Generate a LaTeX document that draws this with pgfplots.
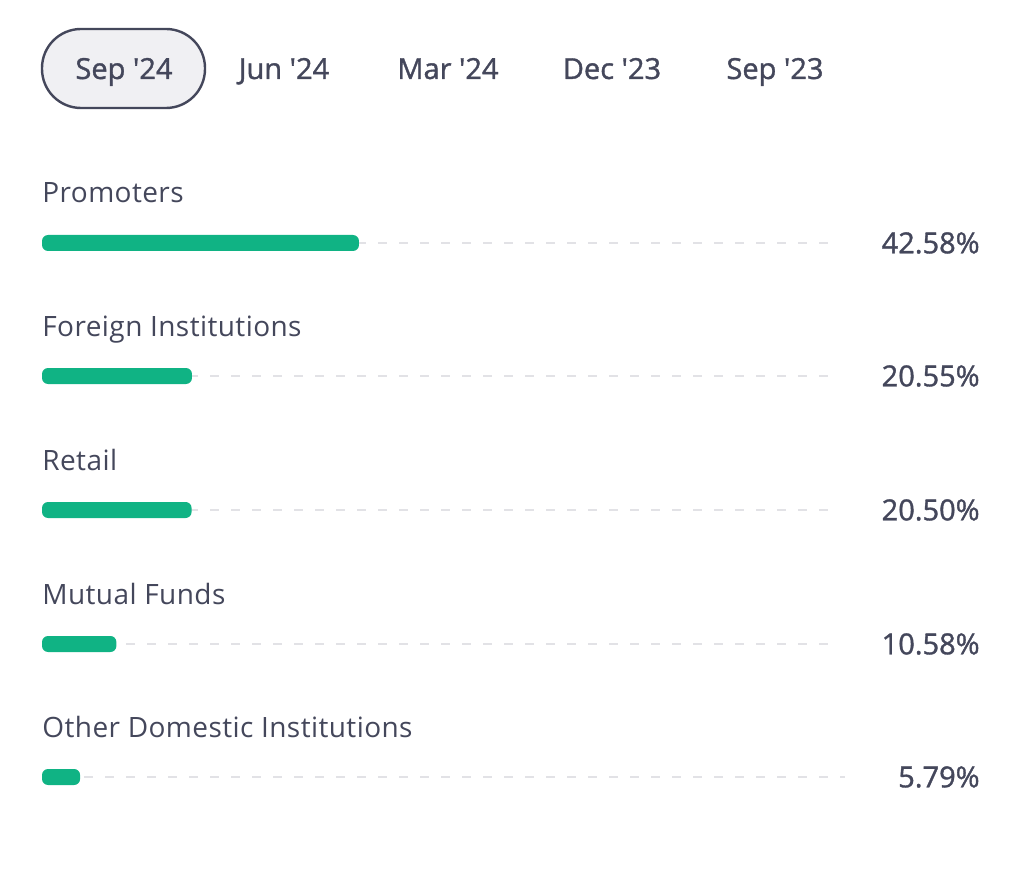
\documentclass[border=0pt]{standalone}
\usepackage{pgfplots}
\pgfplotsset{compat=1.18}
\usepackage{pgfplotstable}
\usepackage{fontspec}
\setmainfont{Open Sans}[LetterSpace=1.5]
\newfontfamily\semib[FakeBold=1.2]{Open Sans}
\definecolor{barg}{HTML}{10B384}
\definecolor{txt}{HTML}{44475B}
\definecolor{trk}{HTML}{E2E2E6}
\definecolor{pill}{HTML}{F0F0F3}

% value (%), row centre (px from top), start offset (%), track end (%)
\pgfplotstableread{
v     y    off   tend
42.58 243  0.77  105.5
20.55 376  0.77  105.5
20.50 510  0.77  105.5
10.58 644  0.77  105.5
5.79  777  0.77  106.7
}\shares
\pgfplotstableread{
xlab   y   lab
124.51 243 42.58\%
124.51 376 20.55\%
124.51 510 20.50\%
124.51 644 10.58\%
124.51 777 5.79\%
}\vals

\pgfplotsset{frame/.style={scale only axis, width=512pt, height=439pt, hide axis,
  xmin=-4.7757, xmax=130.316, ymin=0, ymax=878, y dir=reverse, clip=false}}

\begin{document}
\begin{tikzpicture}
% tracks and values
\begin{axis}[frame]
\addplot[trk, line width=1pt, dash pattern=on 4.5pt off 6pt] coordinates {(0.77,243) (105.5,243)};
\addplot[trk, line width=1pt, dash pattern=on 4.5pt off 6pt] coordinates {(0.77,376) (105.5,376)};
\addplot[trk, line width=1pt, dash pattern=on 4.5pt off 6pt] coordinates {(0.77,510) (105.5,510)};
\addplot[trk, line width=1pt, dash pattern=on 4.5pt off 6pt] coordinates {(0.77,644) (105.5,644)};
\addplot[trk, line width=1pt, dash pattern=on 4.5pt off 6pt] coordinates {(0.77,777) (106.7,777)};
\addplot[draw=none, nodes near coords, point meta=explicit symbolic,
  every node near coord/.style={anchor=east, inner sep=0pt, text=txt, font=\semib\fontsize{14.5}{17}\selectfont}]
  table[x=xlab, y=y, meta=lab] {\vals};
\end{axis}
% bars
\begin{axis}[frame, xbar stacked, bar width=8pt]
\addplot[draw=none, fill=none] table[x=off, y=y] {\shares};
\addplot[draw=none, fill=barg, rounded corners=3pt] table[x expr=\thisrow{v}-\thisrow{off}, y=y] {\shares};
\end{axis}
\begin{scope}[shift={(0,439pt)}, x=0.5pt, y=-0.5pt]
\useasboundingbox (0,0) rectangle (1024,878);
\draw[line width=1.2pt, txt, fill=pill, rounded corners=19.5pt] (42,29) rectangle (205,108);
\begin{scope}[every node/.style={text=txt, font=\semib\fontsize{14.5}{17}\selectfont, inner sep=0pt, anchor=base}]
\node at (124,79) {Sep '24};
\node at (284,79) {Jun '24};
\node at (448,79) {Mar '24};
\node at (612,79) {Dec '23};
\node at (775,79) {Sep '23};
\end{scope}
\begin{scope}[every node/.style={text=txt, font=\fontsize{14}{16}\selectfont, inner sep=0pt, anchor=base west}]
\node at (42,203) {Promoters};
\node at (42,337) {Foreign Institutions};
\node at (42,471) {Retail};
\node at (42,605) {Mutual Funds};
\node at (42,738) {Other Domestic Institutions};
\end{scope}
\end{scope}
\end{tikzpicture}
\end{document}
